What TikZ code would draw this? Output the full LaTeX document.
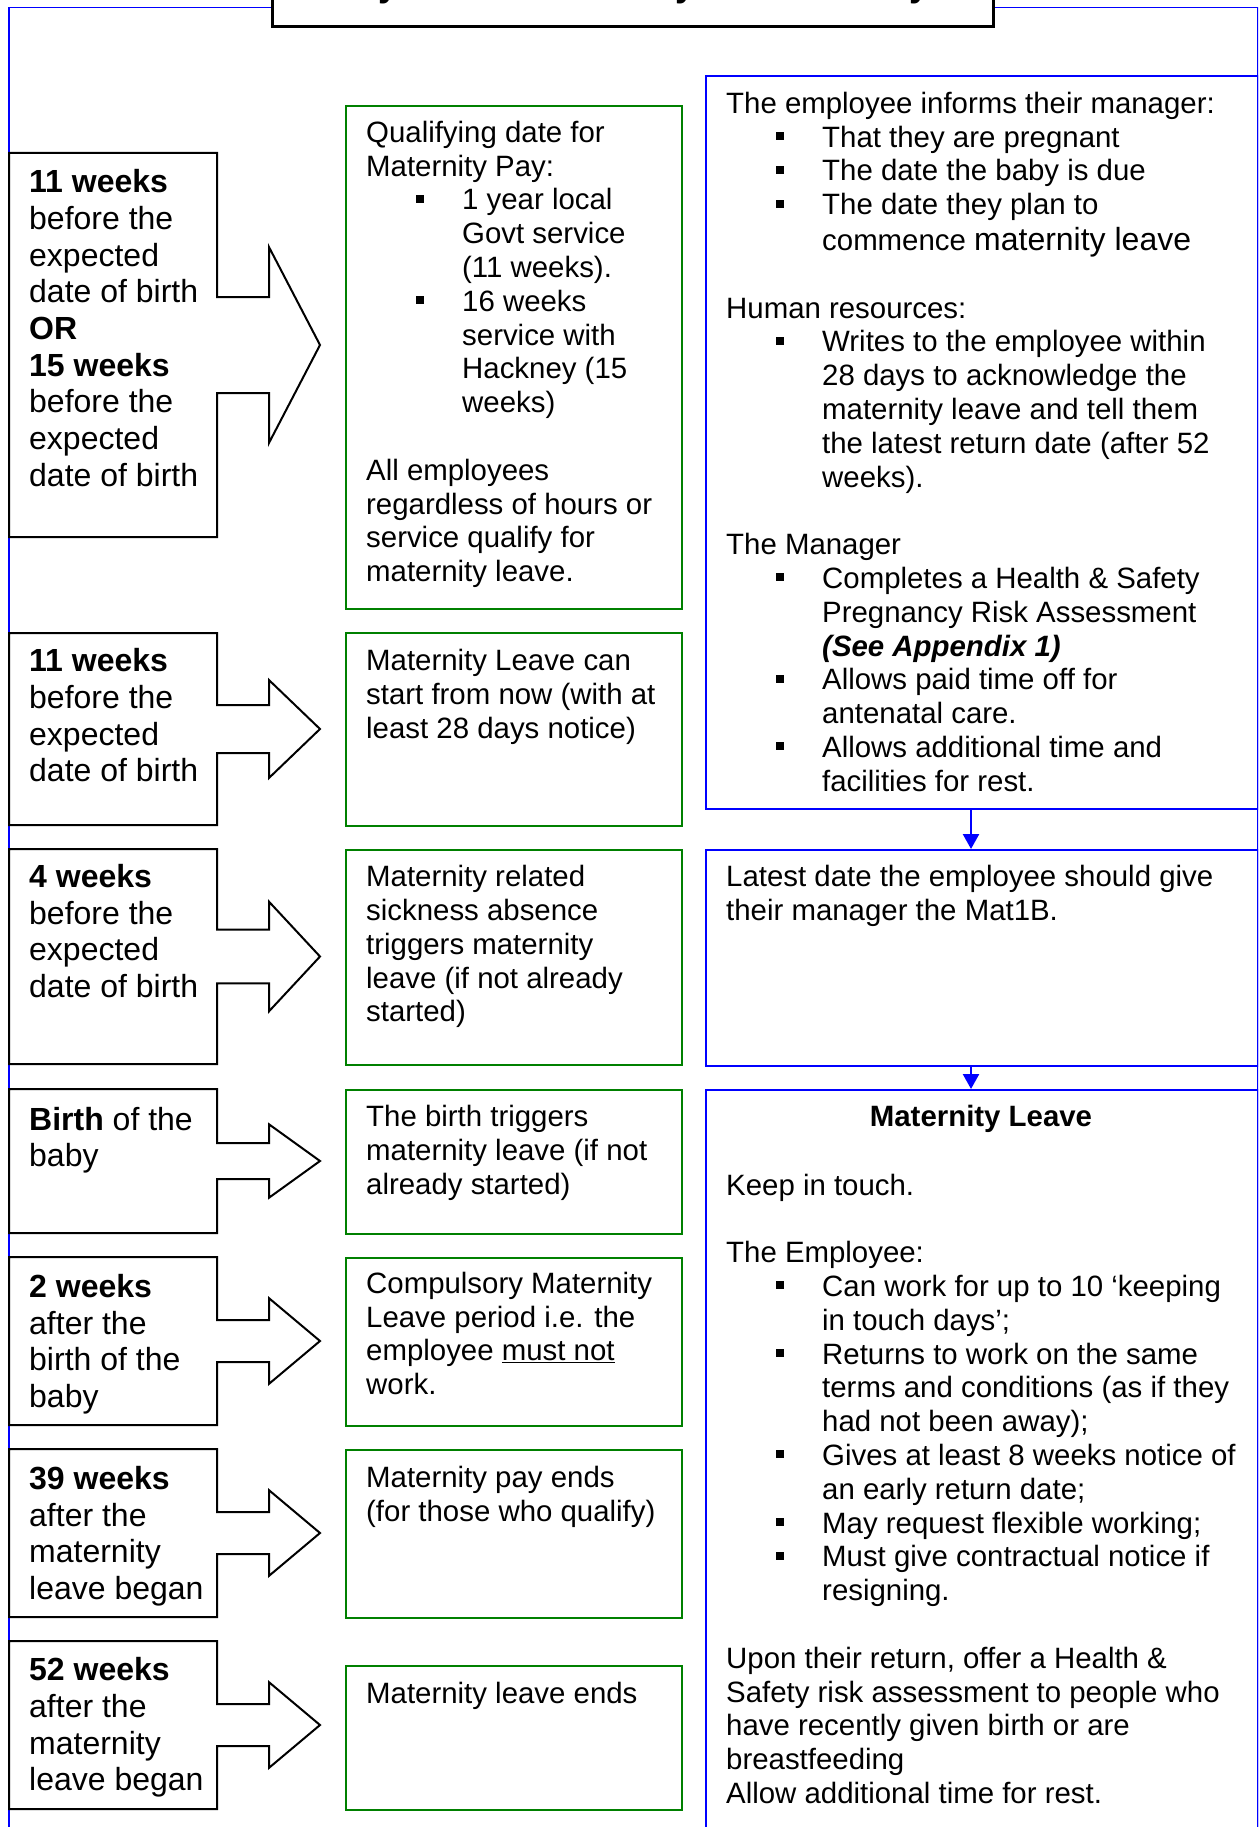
\documentclass[tikz,border=0pt]{standalone}
\usepackage{fontspec}
\setmainfont{Liberation Sans}
\usetikzlibrary{arrows.meta}
\definecolor{boxgreen}{RGB}{0,128,0}
\definecolor{boxblue}{RGB}{0,0,255}
\newcommand\mybul{\hspace*{50pt}\rule[7pt]{8pt}{8pt}\hspace*{38pt}}
\newcommand\myind{\hspace*{96pt}}
\newcommand\tb[1]{\parbox[t]{520pt}{\raggedright #1}}
\newcommand\callout[2]{%
  \pgfmathsetmacro\cC{(#1+#2)/2}%
  \pgfmathsetmacro\cS{0.125*(#2-#1)}%
  \pgfmathsetmacro\cH{0.255*(#2-#1)}%
  \draw[lbox] (9,#1) -- (217,#1) -- (217,\cC-\cS) -- (269,\cC-\cS) -- (269,\cC-\cH)
    -- (320,\cC) -- (269,\cC+\cH) -- (269,\cC+\cS) -- (217,\cC+\cS) -- (217,#2) -- (9,#2) -- cycle;}
\tikzset{
  lbox/.style={draw=black, line width=2pt, fill=white, line join=miter},
  gbox/.style={draw=boxgreen, line width=2pt, anchor=north west, inner sep=0, minimum width=336pt},
  bbox/.style={draw=boxblue, line width=2pt, anchor=north west, inner sep=0, minimum width=552pt},
  ltext/.style={anchor=base west, inner sep=0, font=\fontsize{32}{36.7}\selectfont},
  mtext/.style={anchor=base west, inner sep=0, font=\fontsize{29.4}{33.8}\selectfont},
  barrow/.style={draw=boxblue, line width=2.5pt, -{Triangle[width=16pt,length=15pt]}},
}
\begin{document}
\begin{tikzpicture}[x=1pt,y=-1pt]
\useasboundingbox (0,0) rectangle (1258,1827);
\clip (0,0) rectangle (1258,1827);
\fill[white] (0,0) rectangle (1258,1827);

% outer frame
\node[draw=boxblue, line width=1.5pt, anchor=north west, inner sep=0,
      minimum width=1249pt, minimum height=1893pt] (frame) at (8,7) {};

% title box (mostly above the page)
\node[draw=black, line width=2.5pt, fill=white, anchor=south west, inner sep=0,
      minimum width=721pt, minimum height=90pt] (title) at (271,28) {};
\node[anchor=base, inner sep=0, font=\fontsize{36}{36}\selectfont\bfseries] (ty1) at (389,-3) {y};
\node[anchor=base, inner sep=0, font=\fontsize{36}{36}\selectfont\bfseries] (ty2) at (686,-3) {y};
\node[anchor=base, inner sep=0, font=\fontsize{36}{36}\selectfont\bfseries] (ty3) at (919,-3) {y};

% left callouts
\callout{153}{537}
\callout{633}{825}
\callout{849}{1064}
\callout{1089}{1233}
\callout{1257}{1425}
\callout{1449}{1617}
\callout{1641}{1809}

\node[ltext] (l1) at (29,192.7) {\tb{\textbf{11 weeks}\\ before the\\ expected\\ date of birth\\ \textbf{OR}\\ \textbf{15 weeks}\\ before the\\ expected\\ date of birth}};
\node[ltext] (l2) at (29,671.7) {\tb{\textbf{11 weeks}\\ before the\\ expected\\ date of birth}};
\node[ltext] (l3) at (29,887.3) {\tb{\textbf{4 weeks}\\ before the\\ expected\\ date of birth}};
\node[ltext] (l4) at (29,1130) {\tb{\textbf{Birth} of the\\ baby}};
\node[ltext] (l5) at (29,1297.3) {\tb{\textbf{2 weeks}\\ after the\\ birth of the\\ baby}};
\node[ltext] (l6) at (29,1489.3) {\tb{\textbf{39 weeks}\\ after the\\ maternity\\ leave began}};
\node[ltext] (l7) at (29,1680.7) {\tb{\textbf{52 weeks}\\ after the\\ maternity\\ leave began}};

% green boxes
\node[gbox, minimum height=503pt] (g1) at (345,105) {};
\node[gbox, minimum height=193pt] (g2) at (345,632) {};
\node[gbox, minimum height=215pt] (g3) at (345,849) {};
\node[gbox, minimum height=144pt] (g4) at (345,1089) {};
\node[gbox, minimum height=168pt] (g5) at (345,1257) {};
\node[gbox, minimum height=168pt] (g6) at (345,1449) {};
\node[gbox, minimum height=144pt] (g7) at (345,1665) {};

\node[mtext] (m1) at (366,142.3) {\tb{Qualifying date for\\
Maternity Pay:\\
\mybul 1 year local\\
\myind Govt service\\
\myind (11 weeks).\\
\mybul 16 weeks\\
\myind service with\\
\myind Hackney (15\\
\myind weeks)\\[33.8pt]
All employees\\
regardless of hours or\\
service qualify for\\
maternity leave.}};
\node[mtext] (m2) at (366,670.7) {\tb{Maternity Leave can\\ start from now (with at\\ least 28 days notice)}};
\node[mtext] (m3) at (366,886.7) {\tb{Maternity related\\ sickness absence\\ triggers maternity\\ leave (if not already\\ started)}};
\node[mtext] (m4) at (366,1126.7) {\tb{The birth triggers\\ maternity leave (if not\\ already started)}};
\node[mtext] (m5) at (366,1293.3) {\tb{Compulsory Maternity\\ Leave period i.e. the\\ employee \underline{must not}\\ work.}};
\node[mtext] (m6) at (366,1487.7) {\tb{Maternity pay ends\\ (for those who qualify)}};
\node[mtext] (m7) at (366,1703.3) {\tb{Maternity leave ends}};

% right boxes
\node[bbox, minimum height=733pt] (r1) at (705,75) {};
\node[bbox, minimum height=216pt] (r2) at (705,849) {};
\node[bbox, minimum height=850pt] (r3) at (705,1089) {};

\draw[barrow] ([xshift=-11pt]r1.south) -- ([xshift=-11pt]r2.north);
\draw[barrow] ([xshift=-11pt]r2.south) -- ([xshift=-11pt]r3.north);

\node[mtext] (t1) at (726,113.3) {\tb{The employee informs their manager:\\
\mybul That they are pregnant\\
\mybul The date the baby is due\\
\mybul The date they plan to\\[2pt]
\myind commence {\fontsize{32}{33.8}\selectfont maternity leave}\\[33.8pt]
Human resources:\\
\mybul Writes to the employee within\\
\myind 28 days to acknowledge the\\
\myind maternity leave and tell them\\
\myind the latest return date (after 52\\
\myind weeks).\\[33.8pt]
The Manager\\
\mybul Completes a Health \& Safety\\
\myind Pregnancy Risk Assessment\\
\myind \textbf{\textit{(See Appendix 1)}}\\
\mybul Allows paid time off for\\
\myind antenatal care.\\
\mybul Allows additional time and\\
\myind facilities for rest.}};

\node[mtext] (t2) at (726,886.7) {\tb{Latest date the employee should give\\ their manager the Mat1B.}};

\node[anchor=base, inner sep=0, font=\fontsize{29.4}{33.8}\selectfont\bfseries] (t3h) at (981,1126.7) {Maternity Leave};
\node[mtext] (t3) at (726,1195) {\tb{Keep in touch.\\[33.8pt]
The Employee:\\
\mybul Can work for up to 10 ‘keeping\\
\myind in touch days’;\\
\mybul Returns to work on the same\\
\myind terms and conditions (as if they\\
\myind had not been away);\\
\mybul Gives at least 8 weeks notice of\\
\myind an early return date;\\
\mybul May request flexible working;\\
\mybul Must give contractual notice if\\
\myind resigning.\\[33.8pt]
Upon their return, offer a Health \&\\
Safety risk assessment to people who\\
have recently given birth or are\\
breastfeeding\\
Allow additional time for rest.}};
\end{tikzpicture}
\end{document}
